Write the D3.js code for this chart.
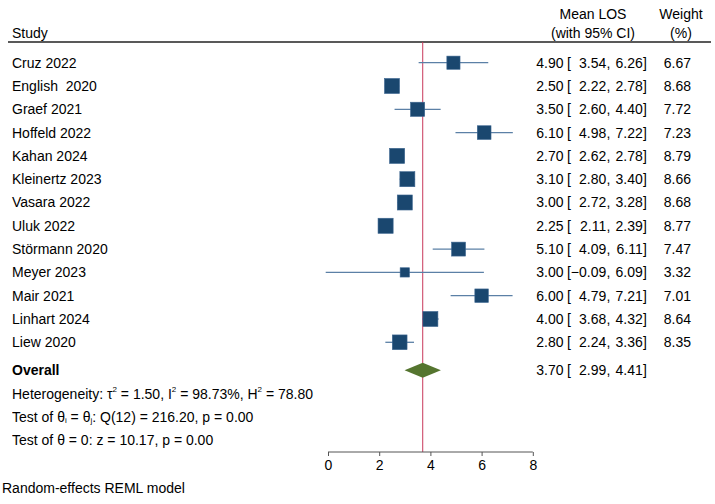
<!DOCTYPE html>
<html>
<head>
<meta charset="utf-8">
<script src="https://cdn.jsdelivr.net/npm/d3@7"></script>
<style>
  body { margin: 0; background: #fff; }
  text { font-family: Arial, "Liberation Sans", Helvetica, sans-serif; font-size: 14px; fill: #000; white-space: pre; }
</style>
</head>
<body>
<div id="chart"></div>
<script>
// data
const studies = ["Cruz 2022", "English  2020", "Graef 2021", "Hoffeld 2022", "Kahan 2024", "Kleinertz 2023",
                 "Vasara 2022", "Uluk 2022", "Störmann 2020", "Meyer 2023", "Mair 2021", "Linhart 2024", "Liew 2020"];
const means   = [4.90, 2.50, 3.50, 6.10, 2.70, 3.10, 3.00, 2.25, 5.10, 3.00, 6.00, 4.00, 2.80];
const lowers  = [3.54, 2.22, 2.60, 4.98, 2.62, 2.80, 2.72, 2.11, 4.09, -0.09, 4.79, 3.68, 2.24];
const uppers  = [6.26, 2.78, 4.40, 7.22, 2.78, 3.40, 3.28, 2.39, 6.11, 6.09, 7.21, 4.32, 3.36];
const weights = [6.67, 8.68, 7.72, 7.23, 8.79, 8.66, 8.68, 8.77, 7.47, 3.32, 7.01, 8.64, 8.35];
const overall = {mean: 3.70, lower: 2.99, upper: 4.41};
const statLines = [
  "Heterogeneity: τ<sup>2</sup> = 1.50, I<sup>2</sup> = 98.73%, H<sup>2</sup> = 78.80",
  "Test of θ<sub>i</sub> = θ<sub>j</sub>: Q(12) = 216.20, p = 0.00",
  "Test of θ = 0: z = 10.17, p = 0.00"
];
const xTicks = [0, 2, 4, 6, 8];

const width = 715;
const height = 504;
const navy = "#1a476f";
const ciColor = "#5b80a6";
const refColor = "#c8385a";
const green = "#55752f";

const svg = d3.select("#chart").append("svg")
    .attr("width", width)
    .attr("height", height);

const xScale = d3.scaleLinear().domain([0, 8]).range([328, 532.8]);
const rowY = d3.scaleLinear().domain([0, 1]).range([62.7, 86]); // row index -> y
const axisY = 452;

// header
svg.append("text").attr("x", 12).attr("y", 33).attr("dy", "0.35em").text("Study");
svg.append("text").attr("x", 593).attr("y", 14).attr("dy", "0.35em").attr("text-anchor", "middle").text("Mean LOS");
svg.append("text").attr("x", 593).attr("y", 33).attr("dy", "0.35em").attr("text-anchor", "middle").text("(with 95% CI)");
svg.append("text").attr("x", 681).attr("y", 14).attr("dy", "0.35em").attr("text-anchor", "middle").text("Weight");
svg.append("text").attr("x", 681).attr("y", 33).attr("dy", "0.35em").attr("text-anchor", "middle").text("(%)");
svg.append("line").attr("x1", 8).attr("x2", 711).attr("y1", 42).attr("y2", 42)
    .attr("stroke", "#222").attr("stroke-width", 1.6);

// reference line at the overall estimate
svg.append("line")
    .attr("x1", xScale(overall.mean)).attr("x2", xScale(overall.mean))
    .attr("y1", 42).attr("y2", axisY)
    .attr("stroke", refColor).attr("stroke-width", 1);

const rows = studies.map((s, i) => ({study: s, mean: means[i], lo: lowers[i], hi: uppers[i], w: weights[i], i: i}));

const row = svg.append("g").selectAll("g")
    .data(rows)
    .join("g")
    .attr("transform", d => `translate(0,${rowY(d.i)})`);

row.append("text").attr("x", 12).attr("dy", "0.35em").text(d => d.study);

row.append("line")
    .attr("x1", d => xScale(d.lo)).attr("x2", d => xScale(d.hi))
    .attr("stroke", ciColor).attr("stroke-width", 1.3);

const boxSize = d => 5.1 * Math.sqrt(d.w);
row.append("rect")
    .attr("x", d => xScale(d.mean) - boxSize(d) / 2)
    .attr("y", d => -boxSize(d) / 2)
    .attr("width", boxSize)
    .attr("height", boxSize)
    .attr("fill", navy)
    .attr("stroke", "#3d6690").attr("stroke-width", 0.6);

const f2 = d3.format(".2f");
const fmt = v => f2(v).replace("-", "−");

function ciText(g) {
  g.append("text").attr("x", 563.5).attr("dy", "0.35em").attr("text-anchor", "end").text(d => fmt(d.mean));
  g.append("text").attr("x", 567).attr("dy", "0.35em").text("[");
  g.append("text").attr("x", 606.3).attr("dy", "0.35em").attr("text-anchor", "end").text(d => fmt(d.lo));
  g.append("text").attr("x", 606.5).attr("dy", "0.35em").text(",");
  g.append("text").attr("x", 642.8).attr("dy", "0.35em").attr("text-anchor", "end").text(d => fmt(d.hi));
  g.append("text").attr("x", 643).attr("dy", "0.35em").text("]");
}
ciText(row);
row.append("text").attr("x", 691).attr("dy", "0.35em").attr("text-anchor", "end").text(d => f2(d.w));

// overall
const ov = svg.append("g").datum({mean: overall.mean, lo: overall.lower, hi: overall.upper})
    .attr("transform", `translate(0,${rowY(13.2)})`);
ov.append("text").attr("x", 12).attr("dy", "0.35em").style("font-weight", "bold").text("Overall");
ov.append("path")
    .attr("d", d => `M${xScale(d.lo)},0 L${xScale(d.mean)},-7.5 L${xScale(d.hi)},0 L${xScale(d.mean)},7.5 Z`)
    .attr("fill", green);
ciText(ov);

// stats lines
statLines.forEach((s, i) => {
  const div = svg.append("foreignObject")
      .attr("x", 12).attr("y", rowY(14.2 + i) - 10)
      .attr("width", 400).attr("height", 22);
  div.append("xhtml:div")
      .style("font", "14px Arial, 'Liberation Sans', sans-serif")
      .style("color", "#000")
      .style("line-height", "20px")
      .style("white-space", "nowrap")
      .html(s.replace(/<sup>/g, "<sup style='font-size:8px;vertical-align:7px;line-height:0'>")
             .replace(/<sub>/g, "<sub style='font-size:8px;vertical-align:-1px;line-height:0'>"));
});

// x axis
const axis = svg.append("g")
    .attr("transform", `translate(0,${axisY})`)
    .call(d3.axisBottom(xScale).tickValues(xTicks).tickSize(4).tickPadding(4).tickFormat(d3.format("d")));
axis.select(".domain").attr("stroke", "#555").attr("d", `M${xScale(0)},0H${xScale(8)}`);
axis.selectAll(".tick line").attr("stroke", "#555");
axis.selectAll(".tick text").style("font-size", "14px").attr("fill", "#000");

svg.append("text").attr("x", 2).attr("y", 488.5).attr("dy", "0.35em").text("Random-effects REML model");
</script>
</body>
</html>
